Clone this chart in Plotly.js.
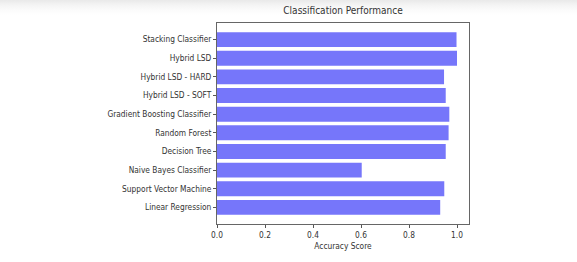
<!DOCTYPE html>
<html><head><meta charset="utf-8">
<script src="https://cdn.plot.ly/plotly-3.0.1.min.js"></script>
<style>html,body{margin:0;padding:0;background:#fff;}#c{width:577px;height:262px;background:linear-gradient(#e9e9e9 0px,#f4f4f4 5px,#fbfbfb 10px,#fff 15px);}</style>
</head><body><div id="c"></div>
<script>
const categories = ["Linear Regression","Support Vector Machine","Naive Bayes Classifier","Decision Tree","Random Forest","Gradient Boosting Classifier","Hybrid LSD - SOFT","Hybrid LSD - HARD","Hybrid LSD","Stacking Classifier"];
const scores = [0.930, 0.947, 0.603, 0.953, 0.965, 0.968, 0.953, 0.946, 1.0, 0.998];
const xTicks = [0, 0.2, 0.4, 0.6, 0.8, 1.0];
const xTickLabels = ["0.0","0.2","0.4","0.6","0.8","1.0"];

const fnt = {family: "Liberation Sans Narrow, DejaVu Sans Condensed, sans-serif", size: 8.3, color: "#333"};
Plotly.newPlot("c", [{
  type: "bar", orientation: "h",
  x: scores, y: categories.map((_, i) => i),
  width: 0.8,
  marker: {color: "rgba(118,118,250,1)", line: {width: 0}},
  hoverinfo: "skip"
}], {
  width: 577, height: 262,
  margin: {l: 217, r: 108, t: 22.5, b: 38, pad: 0},
  paper_bgcolor: "rgba(0,0,0,0)", plot_bgcolor: "#fff",
  showlegend: false,
  font: fnt,
  title: {text: "Classification Performance", font: {family: fnt.family, size: 10, color: "#333"}, x: 0.5, xref: "paper", xanchor: "center", y: 1, yref: "container", yanchor: "top", pad: {t: 7}},
  xaxis: {range: [0, 1.05], tickvals: xTicks, ticktext: xTickLabels, ticks: "outside", ticklen: 3, tickcolor: "#555", showgrid: false, zeroline: false, showline: true, linecolor: "#666", linewidth: 1, mirror: true, tickfont: fnt,
    title: {text: "Accuracy Score", font: fnt, standoff: 4}},
  yaxis: {range: [-0.89, 9.89], tickvals: categories.map((_, i) => i), ticktext: categories, ticks: "outside", ticklen: 3, tickcolor: "#555", showgrid: false, zeroline: false, showline: true, linecolor: "#666", linewidth: 1, mirror: true, tickfont: fnt}
}, {staticPlot: true, displayModeBar: false});
</script></body></html>
